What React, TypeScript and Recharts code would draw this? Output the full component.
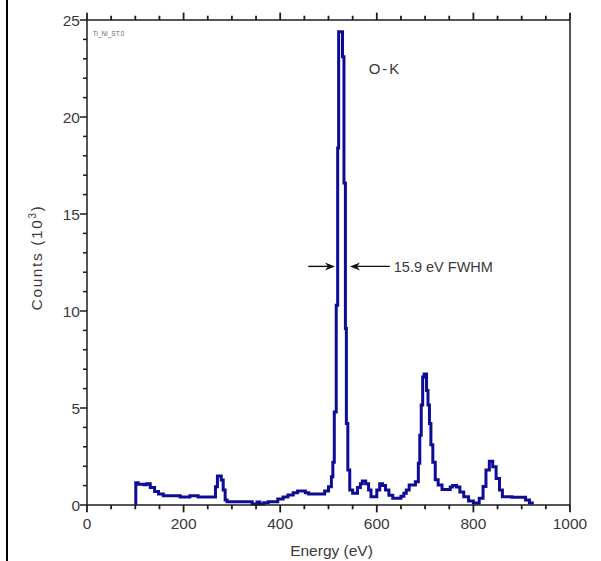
import { LineChart, Line, XAxis, YAxis, ReferenceLine, ReferenceDot } from 'recharts'

// O-K edge spectrum, energy in eV, counts in thousands (stepped trace)
const energy = [
  101, 101, 106, 118, 124, 131, 140, 148, 158, 193,
  213, 230, 266, 270, 278, 282, 286, 290, 342, 352,
  358, 366, 375, 395, 406, 416, 427, 436, 452, 459,
  492, 500, 506, 509, 512, 516, 519, 521, 529, 532,
  535, 537, 540, 544, 550, 560, 566, 570, 577, 583,
  588, 600, 606, 612, 618, 625, 633, 650, 656, 661,
  667, 680, 686, 689, 692, 695, 698, 703, 706, 709,
  712, 716, 721, 727, 735, 752, 757, 765, 772, 780,
  790, 800, 812, 820, 826, 833, 840, 847, 854, 860,
  880, 908, 916, 925
]
const counts = [
  0, 1.15, 1.07, 1.05, 1.1, 0.9, 0.69, 0.57, 0.48, 0.41,
  0.48, 0.41, 0.94, 1.49, 1.29, 0.77, 0.26, 0.17, 0.05, 0.15,
  0.05, 0.12, 0.17, 0.31, 0.41, 0.52, 0.63, 0.72, 0.63, 0.57,
  0.72, 0.94, 1.46, 2.2, 4.8, 10.3, 18.4, 24.4, 23.1, 16.6,
  9.1, 4.2, 1.8, 0.77, 0.6, 0.9, 1.1, 1.24, 1.1, 0.77,
  0.43, 0.77, 1.1, 1.0, 0.77, 0.5, 0.35, 0.45, 0.6, 0.77,
  1.03, 1.2, 2.15, 3.6, 5.15, 6.6, 6.75, 5.9, 5.15, 4.2,
  3.1, 2.2, 1.3, 1.03, 0.8, 0.93, 1.0, 0.93, 0.67, 0.43,
  0.2, 0.1, 0.35, 0.95, 1.8, 2.25, 1.97, 1.37, 0.77, 0.43,
  0.4, 0.26, 0.1, 0.1
]

const energyTicks = [
  0, 50, 100, 150, 200, 250, 300, 350, 400, 450, 500,
  550, 600, 650, 700, 750, 800, 850, 900, 950, 1000
]
const countTicks = [
  0, 1, 2, 3, 4, 5, 6, 7, 8, 9, 10, 11, 12, 13,
  14, 15, 16, 17, 18, 19, 20, 21, 22, 23, 24, 25
]

// FWHM markers at half maximum
const halfMax = 12.3
const leftArrow = [458, 513.5]
const rightArrow = [627, 544.5]

const data = energy.map((e, i) => ({ energy: e, counts: counts[i] }))

const AXIS = '#1c1c1c'
const TEXT = '#3a3a3a'
const FONT = '"Liberation Sans", Arial, sans-serif'
// energy tick lengths in count units (about 4 px and 7 px)
const MINOR_LEN = 0.22
const MAJOR_LEN = 0.38
const tickLen = (v: number) => (v % 200 === 0 ? MAJOR_LEN : MINOR_LEN)

function BottomTick(props: any) {
  const { x, y, payload } = props
  if (payload.value % 200 !== 0) return <g />
  return (
    <text x={x} y={y + 24} textAnchor="middle" fontSize={15.5} fill={TEXT} fontFamily={FONT}>
      {payload.value}
    </text>
  )
}

function LeftTick(props: any) {
  const { x, y, payload } = props
  const major = payload.value % 5 === 0
  const len = major ? 7 : 4
  return (
    <g>
      <rect x={x - len} y={y - 0.75} width={len} height={1.5} fill={AXIS} />
      {major && (
        <text x={x - 7} y={y + 5.5} textAnchor="end" fontSize={15.5} fill={TEXT} fontFamily={FONT}>
          {payload.value}
        </text>
      )}
    </g>
  )
}

function RightTick(props: any) {
  const { x, y, payload } = props
  const len = payload.value % 5 === 0 ? 7 : 4
  return <rect x={x} y={y - 0.75} width={len} height={1.5} fill={AXIS} />
}

function CountsLabel(props: any) {
  const vb = props.viewBox
  const cx = vb.x
  const cy = vb.y + vb.height / 2 - 5
  return (
    <text
      x={cx}
      y={cy}
      dy={5}
      transform={`rotate(-90, ${cx}, ${cy})`}
      textAnchor="middle"
      fontSize={15.5}
      fill={TEXT}
      fontFamily={FONT}
      letterSpacing={1.6}
    >
      Counts (10
      <tspan dy={-6} fontSize={10}>3</tspan>
      <tspan dy={6}>)</tspan>
    </text>
  )
}

function EnergyLabel(props: any) {
  const vb = props.viewBox
  return (
    <text x={vb.x + vb.width / 2 + 3} y={vb.y + 51} textAnchor="middle" fontSize={15.5} fill={TEXT} fontFamily={FONT}>
      Energy (eV)
    </text>
  )
}

function Arrow(props: any) {
  const { x1, y1, x2, y2 } = props
  const dir = Math.sign(x2 - x1)
  return (
    <g>
      <line x1={x1} y1={y1} x2={x2 - dir * 6} y2={y2} stroke="#111" strokeWidth={1.4} />
      <polygon
        points={`${x2},${y2} ${x2 - dir * 10},${y2 - 4} ${x2 - dir * 7},${y2} ${x2 - dir * 10},${y2 + 4}`}
        fill="#111"
      />
    </g>
  )
}

const axisLine = { stroke: AXIS, strokeWidth: 1.5 }

export default function App() {
  return (
    <div style={{ position: 'absolute', left: 0, top: 0, width: 601, height: 561, background: '#fff' }}>
      <div style={{ position: 'absolute', left: 6, top: 0, width: 2, height: 561, background: '#000' }} />
      <LineChart
        width={601}
        height={561}
        data={data}
        margin={{ top: 10, right: 21, bottom: 6, left: 37 }}
      >
        <XAxis
          dataKey="energy"
          type="number"
          domain={[0, 1000]}
          ticks={energyTicks}
          interval={0}
          tickSize={0}
          tickMargin={0}
          tickLine={false}
          tick={<BottomTick />}
          axisLine={axisLine}
          height={50}
          label={{ content: <EnergyLabel /> }}
        />
        <XAxis
          xAxisId="top"
          dataKey="energy"
          orientation="top"
          type="number"
          domain={[0, 1000]}
          tick={false}
          tickLine={false}
          axisLine={axisLine}
          height={10}
        />
        <YAxis
          type="number"
          domain={[0, 25]}
          ticks={countTicks}
          interval={0}
          tickSize={0}
          tickMargin={0}
          tickLine={false}
          tick={<LeftTick />}
          axisLine={axisLine}
          width={50}
          label={{ content: <CountsLabel /> }}
        />
        <YAxis
          yAxisId="right"
          orientation="right"
          type="number"
          domain={[0, 25]}
          ticks={countTicks}
          interval={0}
          tickSize={0}
          tickMargin={0}
          tickLine={false}
          tick={<RightTick />}
          axisLine={axisLine}
          width={10}
        />
        <Line
          dataKey="counts"
          type="stepAfter"
          stroke="#0c0c96"
          strokeWidth={3}
          dot={false}
          isAnimationActive={false}
        />
        {energyTicks.map((v) => (
          <ReferenceLine
            key={`t${v}`}
            segment={[{ x: v, y: 25 }, { x: v, y: 25 + tickLen(v) }]}
            ifOverflow="visible"
            stroke={AXIS}
            strokeWidth={1.8}
          />
        ))}
        {energyTicks.map((v) => (
          <ReferenceLine
            key={`b${v}`}
            segment={[{ x: v, y: -tickLen(v) }, { x: v, y: 0 }]}
            ifOverflow="visible"
            stroke={AXIS}
            strokeWidth={1.8}
          />
        ))}
        <ReferenceLine
          segment={[{ x: leftArrow[0], y: halfMax }, { x: leftArrow[1], y: halfMax }]}
          shape={<Arrow />}
        />
        <ReferenceLine
          segment={[{ x: rightArrow[0], y: halfMax }, { x: rightArrow[1], y: halfMax }]}
          shape={<Arrow />}
        />
        <ReferenceDot
          x={631}
          y={halfMax}
          r={0}
          fill="none"
          stroke="none"
          label={{ value: '15.9 eV FWHM', position: 'right', offset: 2, fontSize: 14.5, fill: TEXT, fontFamily: FONT }}
        />
        <ReferenceDot
          x={617}
          y={22.5}
          r={0}
          fill="none"
          stroke="none"
          label={{ value: 'O-K', position: 'center', offset: 0, fontSize: 15, fill: TEXT, fontFamily: FONT, letterSpacing: 2 }}
        />
        <ReferenceDot
          x={12}
          y={24.3}
          r={0}
          fill="none"
          stroke="none"
          label={{ value: 'Ti_Ni_ST.0', position: 'right', offset: 0, fontSize: 6.5, fill: '#666', fontFamily: FONT }}
        />
      </LineChart>
    </div>
  )
}
